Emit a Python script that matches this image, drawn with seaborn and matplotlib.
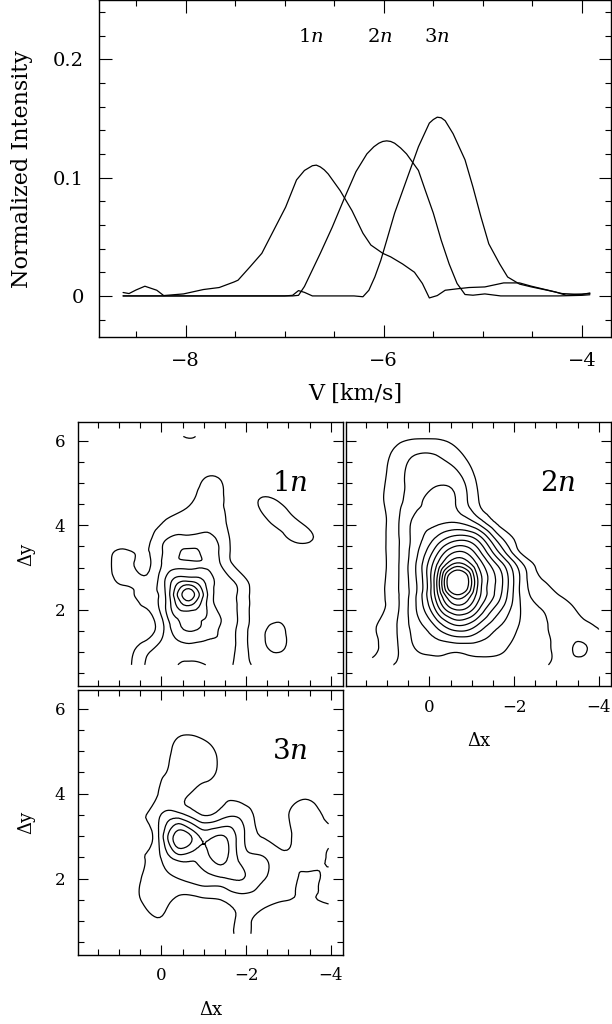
import numpy as np
import matplotlib
matplotlib.use("Agg")
import matplotlib.pyplot as plt
import matplotlib.tri as mtri
from matplotlib.ticker import MultipleLocator, FuncFormatter
import seaborn as sns

# ---- spectra (V in km/s, normalized intensity)
v_1n = [-8.63, -8.57, -8.50, -8.41, -8.29, -8.22, -8.02, -7.82, -7.66, -7.51,
        -7.47, -7.35, -7.23, -7.11, -6.99, -6.88, -6.80, -6.76, -6.72, -6.68,
        -6.64, -6.60, -6.56, -6.44, -6.32, -6.21, -6.13, -6.01, -5.93, -5.81,
        -5.69, -5.61, -5.54, -5.46, -5.38, -5.26, -5.14, -4.98, -4.79, -4.63,
        -4.51, -4.27, -4.16, -4.04, -3.92]
i_1n = [0.0029, 0.0020, 0.0050, 0.0082, 0.0048, 0.0003, 0.0017, 0.0054, 0.0071, 0.0118,
        0.0133, 0.0245, 0.036, 0.0555, 0.075, 0.098, 0.106, 0.108, 0.110, 0.1105,
        0.109, 0.1065, 0.103, 0.089, 0.072, 0.053, 0.043, 0.036, 0.033, 0.027,
        0.020, 0.0105, -0.0017, 0.0003, 0.0048, 0.0060, 0.0071, 0.0076, 0.011, 0.011,
        0.0082, 0.0034, 0.0006, 0.0014, 0.0020]

v_2n = [-8.63, -7.50, -6.92, -6.86, -6.80, -6.72, -6.64, -6.52, -6.40, -6.28,
        -6.17, -6.10, -6.05, -6.01, -5.97, -5.93, -5.89, -5.83, -5.77, -5.65,
        -5.58, -5.50, -5.42, -5.34, -5.26, -5.18, -5.10, -4.98, -4.82, -4.59,
        -4.24, -4.00, -3.92]
i_2n = [0.0, 0.0, 0.0, 0.0005, 0.008, 0.022, 0.036, 0.058, 0.082, 0.105,
        0.120, 0.126, 0.129, 0.1305, 0.131, 0.1305, 0.129, 0.125, 0.120, 0.106,
        0.089, 0.070, 0.047, 0.027, 0.0105, 0.0012, 0.0006, 0.0017, 0.0, 0.0,
        0.0, 0.0005, 0.001]

v_3n = [-8.63, -7.00, -6.92, -6.86, -6.80, -6.72, -6.30, -6.21, -6.15, -6.09,
        -6.03, -5.97, -5.89, -5.77, -5.65, -5.54, -5.50, -5.46, -5.42, -5.38,
        -5.30, -5.18, -5.10, -5.02, -4.94, -4.83, -4.75, -4.63, -4.51, -4.35,
        -4.20, -4.00, -3.92]
i_3n = [0.0, 0.0, 0.0005, 0.0045, 0.003, 0.0, 0.0, -0.0007, 0.0048, 0.016,
        0.030, 0.047, 0.070, 0.098, 0.126, 0.146, 0.149, 0.151, 0.1505, 0.148,
        0.137, 0.115, 0.092, 0.067, 0.044, 0.027, 0.016, 0.010, 0.0076, 0.0048,
        0.002, 0.0012, 0.0025]

# ---- channel maps: intensity (in contour-level units) on a grid, rows bottom -> top
map_x = [1.35, 0.85, 0.35, -0.15, -0.65, -1.15, -1.65, -2.15, -2.65, -3.15, -3.65, -4.0]
map_y = [0.7, 1.1, 1.6, 2.1, 2.35, 2.6, 3.1, 3.35, 3.6, 4.1, 4.6, 5.1, 5.6, 6.1]

map_1n = [
    [0.3, 0.6, 2.1, 2.6, 3.3, 2.9, 2.1, 0.95, 0.4, 0.3, 0.3, 0.3],
    [0.3, 0.5, 1.6, 2.5, 2.7, 2.6, 2.3, 0.8, 1.15, 0.6, 0.3, 0.3],
    [0.3, 0.4, 0.4, 2.6, 4.2, 3.5, 2.4, 0.8, 1.15, 0.5, 0.3, 0.3],
    [0.3, 0.8, 1.15, 3.4, 6.0, 3.5, 2.3, 0.8, 0.4, 0.3, 0.3, 0.3],
    [0.3, 0.7, 1.4, 3.5, 7.6, 3.5, 2.3, 0.8, 0.4, 0.3, 0.3, 0.3],
    [0.3, 1.05, 1.3, 3.5, 5.9, 3.4, 2.3, 0.8, 0.4, 0.3, 0.3, 0.3],
    [0.4, 1.3, 0.8, 2.5, 2.9, 2.7, 1.05, 0.4, 0.3, 0.3, 0.3, 0.3],
    [0.4, 1.2, 0.9, 2.4, 3.15, 2.6, 0.9, 0.3, 0.3, 0.3, 0.3, 0.3],
    [0.3, 0.5, 0.8, 2.2, 2.5, 2.4, 0.9, 0.3, 0.3, 1.0, 0.85, 0.3],
    [0.3, 0.3, 0.5, 1.1, 1.5, 1.6, 0.7, 0.3, 1.2, 1.15, 0.5, 0.3],
    [0.3, 0.3, 0.3, 0.5, 0.8, 1.4, 0.7, 0.8, 1.05, 0.4, 0.3, 0.3],
    [0.3, 0.3, 0.3, 0.4, 0.5, 1.1, 0.6, 0.3, 0.3, 0.3, 0.3, 0.3],
    [0.3, 0.3, 0.3, 0.3, 0.4, 0.4, 0.3, 0.3, 0.3, 0.3, 0.3, 0.3],
    [0.3, 0.3, 0.3, 0.4, 1.1, 0.4, 0.3, 0.3, 0.3, 0.3, 0.3, 0.3],
]

map_2n = [
    [1.3, 2.0, 2.3, 2.6, 2.7, 2.6, 2.6, 2.4, 2.1, 1.8, 1.5, 1.3],
    [0.8, 1.7, 3.0, 3.4, 3.4, 3.5, 3.2, 2.7, 2.3, 1.8, 2.1, 1.2],
    [0.9, 1.75, 3.4, 5.0, 6.75, 5.7, 4.0, 2.9, 2.15, 1.65, 1.25, 0.95],
    [0.5, 1.5, 3.8, 7.5, 10.9, 8.6, 5.6, 3.0, 1.9, 1.3, 0.7, 0.5],
    [0.45, 1.55, 3.75, 8.3, 12.9, 9.5, 6.3, 2.9, 1.5, 0.9, 0.5, 0.4],
    [0.4, 1.57, 3.7, 8.6, 15.0, 9.9, 6.5, 2.86, 1.2, 0.6, 0.4, 0.3],
    [0.4, 1.5, 3.8, 7.6, 11.1, 8.7, 5.5, 2.25, 0.5, 0.3, 0.3, 0.3],
    [0.4, 1.5, 3.6, 6.6, 9.2, 7.5, 4.0, 1.0, 0.3, 0.3, 0.3, 0.3],
    [0.4, 1.5, 3.4, 5.5, 7.3, 6.2, 2.8, 0.6, 0.3, 0.3, 0.3, 0.3],
    [0.4, 1.5, 3.2, 3.7, 3.8, 2.5, 0.6, 0.3, 0.3, 0.3, 0.3, 0.3],
    [0.4, 1.5, 2.6, 3.4, 2.9, 1.05, 0.3, 0.3, 0.3, 0.3, 0.3, 0.3],
    [0.4, 1.4, 2.4, 2.7, 2.4, 0.8, 0.3, 0.3, 0.3, 0.3, 0.3, 0.3],
    [0.3, 1.2, 2.1, 2.1, 1.4, 0.5, 0.3, 0.3, 0.3, 0.3, 0.3, 0.3],
    [0.3, 0.6, 0.8, 0.8, 0.6, 0.3, 0.3, 0.3, 0.3, 0.3, 0.3, 0.3],
]

map3_x = [1.1, 0.6, 0.1, -0.4, -0.9, -1.4, -1.9, -2.4, -2.9, -3.4, -3.95]
map3_y = [0.7, 1.0, 1.5, 2.0, 2.5, 3.0, 3.5, 4.0, 4.5, 5.0, 5.5, 6.0]

map_3n = [
    [0.2, 0.3, 0.5, 0.6, 0.5, 0.5, 1.15, 0.6, 0.4, 0.3, 0.3],
    [0.2, 0.4, 0.9, 0.6, 0.5, 0.6, 1.1, 0.7, 0.4, 0.3, 0.5],
    [0.3, 0.8, 1.4, 0.8, 0.8, 1.0, 1.5, 1.3, 1.05, 0.9, 1.1],
    [0.3, 0.8, 1.6, 2.0, 2.5, 2.85, 3.05, 2.1, 1.5, 0.85, 1.3],
    [0.3, 0.8, 1.7, 3.5, 3.3, 4.4, 2.6, 2.05, 1.2, 1.4, 0.85],
    [0.3, 0.8, 1.7, 5.6, 3.95, 4.1, 2.3, 0.9, 0.8, 1.35, 1.25],
    [0.3, 0.7, 1.7, 2.4, 1.1, 1.5, 1.7, 0.5, 0.8, 1.35, 0.7],
    [0.2, 0.4, 0.95, 1.4, 0.6, 0.7, 0.5, 0.3, 0.5, 0.8, 0.3],
    [0.2, 0.3, 0.7, 1.35, 1.4, 0.85, 0.4, 0.3, 0.3, 0.3, 0.3],
    [0.2, 0.3, 0.5, 1.25, 1.4, 0.8, 0.3, 0.3, 0.3, 0.3, 0.3],
    [0.2, 0.3, 0.4, 0.8, 0.75, 0.5, 0.3, 0.3, 0.3, 0.3, 0.3],
    [0.2, 0.2, 0.2, 0.2, 0.2, 0.2, 0.2, 0.2, 0.2, 0.2, 0.2],
]

levels_1n = [1, 2, 3, 4, 5, 6, 7]
levels_2n = [1, 2, 3, 4, 5, 6, 7, 8, 9, 10, 11, 12, 13]
levels_3n = [1, 2, 3, 4, 5]

sns.set_theme(style="ticks")
plt.rcParams["font.family"] = ["DejaVu Serif"]
plt.rcParams["mathtext.fontset"] = "dejavuserif"
plt.rcParams["axes.linewidth"] = 1.0
plt.rcParams["axes.edgecolor"] = "black"
plt.rcParams["text.color"] = "black"
plt.rcParams["axes.labelcolor"] = "black"
plt.rcParams["xtick.color"] = "black"
plt.rcParams["ytick.color"] = "black"


def num_fmt(v, pos):
    if abs(v) < 1e-9:
        v = 0.0
    return f"{v:g}".replace("-", "\u2212")


def style_axes(ax, major_len, minor_len, size):
    ax.tick_params(which="both", direction="in", top=True, right=True,
                   width=0.8, colors="black", labelsize=size)
    ax.tick_params(which="major", length=major_len)
    ax.tick_params(which="minor", length=minor_len)
    ax.xaxis.set_major_formatter(FuncFormatter(num_fmt))
    ax.yaxis.set_major_formatter(FuncFormatter(num_fmt))


def draw_map(ax, xs, ys, values, levels, label):
    xx, yy = np.meshgrid(xs, ys)
    tri = mtri.Triangulation(xx.ravel(), yy.ravel())
    refiner = mtri.UniformTriRefiner(tri)
    tri_fine, z_fine = refiner.refine_field(np.asarray(values, float).ravel(), subdiv=3)
    ax.tricontour(tri_fine, z_fine, levels=levels, colors="black", linewidths=0.9)
    ax.set_xlim(1.97, -4.29)
    ax.set_ylim(0.2, 6.44)
    ax.xaxis.set_major_locator(MultipleLocator(2))
    ax.xaxis.set_minor_locator(MultipleLocator(0.5))
    ax.yaxis.set_major_locator(MultipleLocator(2))
    ax.yaxis.set_minor_locator(MultipleLocator(0.5))
    style_axes(ax, 7, 4.5, 12)
    ax.tick_params(which="major", pad=9)
    ax.text(-3.03, 4.99, label, ha="center", va="center", fontsize=20)
    ax.grid(False)


fig = plt.figure(figsize=(6.12, 10.24), dpi=100)

# ---- top panel: spectra
ax = fig.add_axes([99 / 612, 1 - 337 / 1024, 512 / 612, 337 / 1024])
for v, i in [(v_1n, i_1n), (v_2n, i_2n), (v_3n, i_3n)]:
    sns.lineplot(x=v, y=i, ax=ax, color="black", linewidth=0.9,
                 sort=False, estimator=None)
ax.set_xlim(-8.873, -3.707)
ax.set_ylim(-0.0347, 0.25)
ax.xaxis.set_major_locator(MultipleLocator(2))
ax.xaxis.set_minor_locator(MultipleLocator(0.5))
ax.yaxis.set_major_locator(MultipleLocator(0.1))
ax.yaxis.set_minor_locator(MultipleLocator(0.02))
style_axes(ax, 9, 4.5, 14)
ax.tick_params(which="major", pad=11)
ax.set_xlabel("V [km/s]", fontsize=16, labelpad=9)
ax.set_ylabel("Normalized Intensity", fontsize=16, labelpad=14)
for x, lab in [(-6.74, "1$n$"), (-6.04, "2$n$"), (-5.46, "3$n$")]:
    ax.text(x, 0.219, lab, ha="center", va="center", fontsize=14)
ax.grid(False)

# ---- channel maps
ax1 = fig.add_axes([78 / 612, 1 - 686 / 1024, 265 / 612, 264 / 1024])
draw_map(ax1, map_x, map_y, map_1n, levels_1n, "1$n$")
ax1.tick_params(labelbottom=False)
ax1.set_ylabel("\u0394y", fontsize=13, labelpad=14)

ax2 = fig.add_axes([346 / 612, 1 - 686 / 1024, 265 / 612, 264 / 1024])
draw_map(ax2, map_x, map_y, map_2n, levels_2n, "2$n$")
ax2.tick_params(labelleft=False)
ax2.set_xlabel("\u0394x", fontsize=13, labelpad=12)

ax3 = fig.add_axes([78 / 612, 1 - 955 / 1024, 265 / 612, 265 / 1024])
draw_map(ax3, map3_x, map3_y, map_3n, levels_3n, "3$n$")
ax3.set_xlabel("\u0394x", fontsize=13, labelpad=12)
ax3.set_ylabel("\u0394y", fontsize=13, labelpad=14)

fig.savefig("out.png", dpi=100)
